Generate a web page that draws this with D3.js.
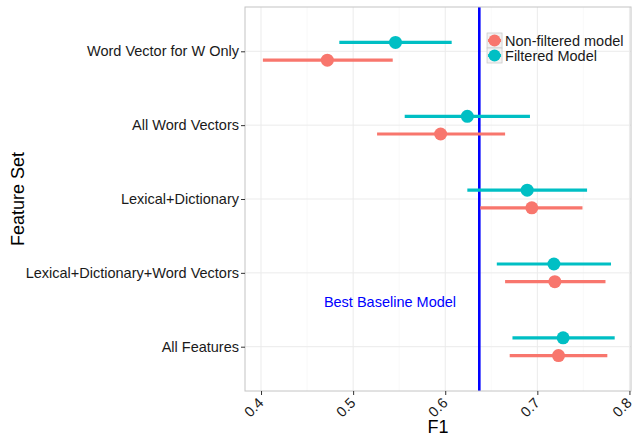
<!DOCTYPE html>
<html>
<head>
<meta charset="utf-8">
<script src="https://cdn.jsdelivr.net/npm/d3@7"></script>
<style>
  body { margin: 0; background: #fff; }
  text { font-family: "Liberation Sans", Arial, sans-serif; }
</style>
</head>
<body>
<div id="chart"></div>
<script>
// categories, bottom to top
var features = ["All Features", "Lexical+Dictionary+Word Vectors", "Lexical+Dictionary",
                "All Word Vectors", "Word Vector for W Only"];
var models = ["Non-filtered model", "Filtered Model"];

var nonFilteredF1 = [0.723, 0.719, 0.694, 0.595, 0.472];
var nonFilteredLo = [0.670, 0.665, 0.638, 0.526, 0.402];
var nonFilteredHi = [0.776, 0.774, 0.749, 0.665, 0.543];

var filteredF1 = [0.728, 0.718, 0.689, 0.624, 0.546];
var filteredLo = [0.673, 0.656, 0.624, 0.556, 0.485];
var filteredHi = [0.784, 0.780, 0.754, 0.692, 0.607];

var xTicks = [0.4, 0.5, 0.6, 0.7, 0.8];
var baseline = 0.637;

var colors = ["#F8766D", "#00BFC4"];

var W = 635, H = 438;
var margin = {top: 7, right: 4, bottom: 47, left: 245};
var width = W - margin.left - margin.right,
    height = H - margin.top - margin.bottom;

var x = d3.scaleLinear().domain([0.3826, 0.8017]).range([0, width]);
var y = d3.scaleLinear().domain([0.4, 5.6]).range([height, 0]);

var rows = [];
features.forEach(function(f, i){
  rows.push({feat: i + 1, model: 0, f1: nonFilteredF1[i], lo: nonFilteredLo[i], hi: nonFilteredHi[i]});
  rows.push({feat: i + 1, model: 1, f1: filteredF1[i], lo: filteredLo[i], hi: filteredHi[i]});
});
var dodge = 0.12; // in category units

var svg = d3.select("#chart").append("svg")
    .attr("width", W).attr("height", H)
  .append("g")
    .attr("transform", "translate(" + margin.left + "," + margin.top + ")");

// minor grid
var minor = [0.45, 0.55, 0.65, 0.75];
svg.selectAll(".minor").data(minor)
  .enter().append("line")
    .attr("x1", function(d){ return x(d); }).attr("x2", function(d){ return x(d); })
    .attr("y1", 0).attr("y2", height)
    .style("stroke", "#f5f5f5").style("stroke-width", 0.6);

// major grid
svg.selectAll(".gx").data(xTicks).enter().append("line")
    .attr("x1", function(d){ return x(d); }).attr("x2", function(d){ return x(d); })
    .attr("y1", 0).attr("y2", height)
    .style("stroke", "#ebebeb").style("stroke-width", 1);
svg.selectAll(".gy").data(features).enter().append("line")
    .attr("x1", 0).attr("x2", width)
    .attr("y1", function(d, i){ return y(i + 1); }).attr("y2", function(d, i){ return y(i + 1); })
    .style("stroke", "#ebebeb").style("stroke-width", 1);

// baseline
svg.append("line")
    .attr("x1", x(baseline)).attr("x2", x(baseline))
    .attr("y1", 0).attr("y2", height)
    .style("stroke", "#0000ff").style("stroke-width", 2.6);

svg.append("text")
    .attr("x", x(0.54)).attr("y", y(1.6))
    .attr("dy", "0.35em")
    .style("text-anchor", "middle")
    .style("fill", "#0000ff")
    .style("font-size", "14.5px")
    .text("Best Baseline Model");

// error bars + points
var g = svg.selectAll(".pt").data(rows).enter().append("g");
g.append("line")
    .attr("x1", function(d){ return x(d.lo); })
    .attr("x2", function(d){ return x(d.hi); })
    .attr("y1", function(d){ return y(d.feat + (d.model ? dodge : -dodge)); })
    .attr("y2", function(d){ return y(d.feat + (d.model ? dodge : -dodge)); })
    .style("stroke", function(d){ return colors[d.model]; })
    .style("stroke-width", 3.2);
g.append("circle")
    .attr("cx", function(d){ return x(d.f1); })
    .attr("cy", function(d){ return y(d.feat + (d.model ? dodge : -dodge)); })
    .attr("r", 6.5)
    .style("fill", function(d){ return colors[d.model]; });

// panel border
svg.append("rect")
    .attr("width", width).attr("height", height)
    .style("fill", "none").style("stroke", "#c4c4c4").style("stroke-width", 1);

// axes
var xAxis = svg.append("g")
    .attr("transform", "translate(0," + height + ")")
    .call(d3.axisBottom(x).tickValues(xTicks).tickSize(4).tickSizeOuter(0).tickFormat(d3.format(".1f")));
xAxis.select(".domain").remove();
xAxis.selectAll("line").style("stroke", "#333");
xAxis.selectAll("text")
    .style("text-anchor", "end")
    .style("font-size", "14.5px")
    .style("fill", "#1a1a1a")
    .attr("x", -7)
    .attr("y", 6)
    .attr("dy", "0.35em")
    .attr("transform", "rotate(-45)");

var yAxis = svg.append("g")
    .call(d3.axisLeft(y).tickValues([1, 2, 3, 4, 5]).tickSize(4).tickSizeOuter(0)
      .tickFormat(function(d){ return features[d - 1]; }));
yAxis.select(".domain").remove();
yAxis.selectAll("line").style("stroke", "#333");
yAxis.selectAll("text")
    .style("font-size", "14.5px")
    .style("fill", "#1a1a1a")
    .attr("x", -6);

// axis titles
svg.append("text")
    .attr("x", width / 2).attr("y", height + 42)
    .style("text-anchor", "middle")
    .style("font-size", "18px")
    .text("F1");
svg.append("text")
    .attr("transform", "translate(" + (-221) + "," + (height / 2) + ") rotate(-90)")
    .style("text-anchor", "middle")
    .style("font-size", "18px")
    .text("Feature Set");

// legend
var lg = svg.append("g").attr("transform", "translate(" + x(0.6454) + "," + 26 + ")");
lg.selectAll("rect").data(models).enter().append("rect")
    .attr("x", 0).attr("y", function(d, i){ return i * 15; })
    .attr("width", 15).attr("height", 15)
    .style("fill", "#f2f2f2").style("stroke", "#cccccc").style("stroke-width", 0.8);
lg.selectAll("line").data(models).enter().append("line")
    .attr("x1", 1).attr("x2", 14)
    .attr("y1", function(d, i){ return i * 15 + 7.5; }).attr("y2", function(d, i){ return i * 15 + 7.5; })
    .style("stroke", function(d, i){ return colors[i]; }).style("stroke-width", 3);
lg.selectAll("circle").data(models).enter().append("circle")
    .attr("cx", 7.5).attr("cy", function(d, i){ return i * 15 + 7.5; })
    .attr("r", 6)
    .style("fill", function(d, i){ return colors[i]; });
lg.selectAll("text").data(models).enter().append("text")
    .attr("x", 18).attr("y", function(d, i){ return i * 15 + 7.5; })
    .attr("dy", "0.35em")
    .style("font-size", "14.5px")
    .style("fill", "#1a1a1a")
    .text(function(d){ return d; });
</script>
</body>
</html>
